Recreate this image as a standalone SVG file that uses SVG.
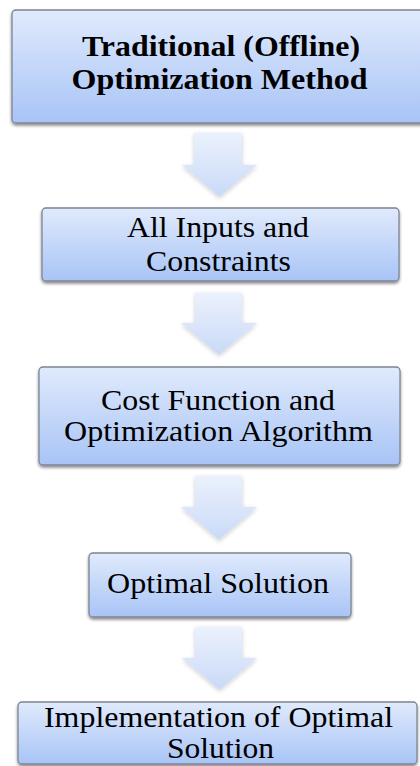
<svg xmlns="http://www.w3.org/2000/svg" width="420" height="766" viewBox="0 0 420 766">
<defs>
<linearGradient id="boxg" x1="0" y1="0" x2="0" y2="1">
<stop offset="0" stop-color="#e0eafc"/>
<stop offset="1" stop-color="#a8c4f6"/>
</linearGradient>
<linearGradient id="arrg" x1="0" y1="0" x2="0" y2="1">
<stop offset="0" stop-color="#ebf1fd"/>
<stop offset="1" stop-color="#c9daf7"/>
</linearGradient>
<filter id="sh" x="-10%" y="-10%" width="120%" height="130%">
<feDropShadow dx="0" dy="2" stdDeviation="1.5" flood-color="#000" flood-opacity="0.45"/>
</filter>
<filter id="ash" x="-20%" y="-20%" width="140%" height="140%">
<feDropShadow dx="0" dy="1.5" stdDeviation="2" flood-color="#000" flood-opacity="0.2"/>
</filter>
</defs>
<style>
.box{fill:url(#boxg);stroke:#7d8594;stroke-width:1.3;filter:url(#sh)}
.arr{fill:url(#arrg);filter:url(#ash)}
text{font-family:"Liberation Serif","Times New Roman",serif;fill:#000;text-anchor:middle}
.b{font-weight:bold;font-size:30px}
.n{font-size:30px}
</style>
<rect width="420" height="766" fill="#fff"/>
<g id="connectors">
<path class="arr" d="M194,133 H242 V165 H257 L219.5,197 L182,165 H194 Z"/>
<path class="arr" d="M195,293 H242 V323 H257 L219,355 L181,323 H195 Z"/>
<path class="arr" d="M195,476 H242 V507 H257 L219,540 L181,507 H195 Z"/>
<path class="arr" d="M195,627 H242 V658 H257 L219.5,690 L182,658 H195 Z"/>
</g>
<g id="node1">
<rect class="box" x="12" y="10" width="418" height="113" rx="4"/>
<text class="b" x="221" y="56" textLength="278" lengthAdjust="spacingAndGlyphs">Traditional (Offline)</text>
<text class="b" x="219.5" y="89" textLength="296" lengthAdjust="spacingAndGlyphs">Optimization Method</text>
</g>
<g id="node2">
<rect class="box" x="42" y="208" width="357" height="73" rx="4"/>
<text class="n" x="218" y="237" textLength="182" lengthAdjust="spacingAndGlyphs">All Inputs and</text>
<text class="n" x="218.5" y="271" textLength="145" lengthAdjust="spacingAndGlyphs">Constraints</text>
</g>
<g id="node3">
<rect class="box" x="39" y="367" width="361" height="98" rx="4"/>
<text class="n" x="218" y="410" textLength="234" lengthAdjust="spacingAndGlyphs">Cost Function and</text>
<text class="n" x="218.5" y="441" textLength="309" lengthAdjust="spacingAndGlyphs">Optimization Algorithm</text>
</g>
<g id="node4">
<rect class="box" x="89" y="553" width="262" height="64" rx="4"/>
<text class="n" x="218" y="593" textLength="222" lengthAdjust="spacingAndGlyphs">Optimal Solution</text>
</g>
<g id="node5">
<rect class="box" x="18" y="702" width="399" height="62" rx="4"/>
<text class="n" x="218.5" y="727" textLength="349" lengthAdjust="spacingAndGlyphs">Implementation of Optimal</text>
<text class="n" x="220.5" y="758" textLength="107" lengthAdjust="spacingAndGlyphs">Solution</text>
</g>
</svg>
